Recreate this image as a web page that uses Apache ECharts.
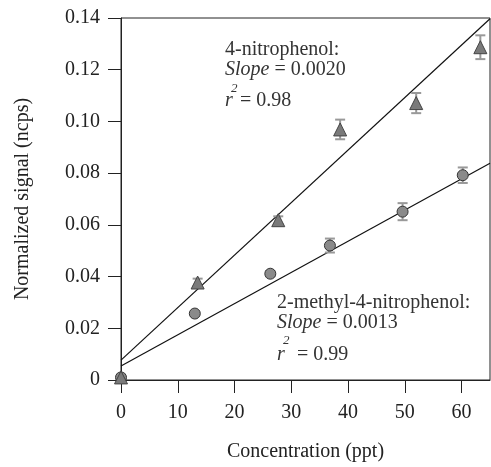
<!DOCTYPE html>
<html>
<head>
<meta charset="utf-8">
<script src="https://cdn.jsdelivr.net/npm/echarts@6/dist/echarts.min.js"></script>
<style>
  html, body { margin: 0; padding: 0; background: #fff; }
  #chart { width: 491px; height: 467px; }
</style>
</head>
<body>
<div id="chart"></div>
<script>
// 4-nitrophenol (triangles)
const conc4NP = [0, 13.5, 27.7, 38.6, 52.0, 63.3];
const signal4NP = [0.001, 0.0377, 0.0618, 0.0969, 0.1071, 0.1287];
const err4NP = [0.001, 0.0015, 0.0015, 0.0038, 0.0039, 0.0046];

// 2-methyl-4-nitrophenol (circles)
const conc2M = [0, 13.0, 26.3, 36.8, 49.6, 60.2];
const signal2M = [0.001, 0.0257, 0.0411, 0.052, 0.0651, 0.0792];
const err2M = [0.001, 0.0005, 0.001, 0.0027, 0.0033, 0.003];

// linear fits
const fitX = [0, 65];
const fit4NP = [0.0077, 0.1397];
const fit2M = [0.0054, 0.0838];

const FONT = '"Liberation Serif", "Times New Roman", serif';

const chart = echarts.init(document.getElementById('chart'));

function pairs(xs, ys) {
    return xs.map((x, i) => [x, ys[i]]);
}

function errData(xs, ys, es) {
    return xs.map((x, i) => [x, ys[i] - es[i], ys[i] + es[i]]);
}

// 误差线
function renderErrorBar(params, api) {
    const x = api.value(0);
    const lo = api.coord([x, api.value(1)]);
    const hi = api.coord([x, api.value(2)]);
    const half = 5;
    const style = { stroke: '#999', lineWidth: 2, fill: null };
    return {
        type: 'group',
        children: [
            { type: 'line', shape: { x1: lo[0], y1: lo[1], x2: hi[0], y2: hi[1] }, style },
            { type: 'line', shape: { x1: lo[0] - half, y1: lo[1], x2: lo[0] + half, y2: lo[1] }, style },
            { type: 'line', shape: { x1: hi[0] - half, y1: hi[1], x2: hi[0] + half, y2: hi[1] }, style },
        ],
    };
}

const richItalic = { i: { fontFamily: FONT, fontSize: 20, fontStyle: 'italic', color: '#333' } };

function txt(left, top, text, extra) {
    return {
        type: 'text',
        left: left,
        top: top,
        style: Object.assign({ fontFamily: FONT, fontSize: 20, fill: '#333', text: text, rich: richItalic }, extra || {}),
    };
}

const option = {
    animation: false,
    grid: {
        left: 121,
        right: 1,
        top: 18,
        bottom: 80,
        show: true,
        borderColor: '#222',
        borderWidth: 1,
    },
    xAxis: {
        type: 'value',
        min: 0,
        max: 65,
        interval: 10,
        name: 'Concentration (ppt)',
        nameLocation: 'middle',
        nameGap: 62,
        nameTextStyle: { fontFamily: FONT, fontSize: 20, color: '#222' },
        axisLine: { show: true, lineStyle: { color: '#222', width: 1 } },
        axisTick: { show: true, length: 13, lineStyle: { color: '#222' } },
        axisLabel: { fontFamily: FONT, fontSize: 20, color: '#222', margin: 23, showMaxLabel: false },
        splitLine: { show: false },
    },
    yAxis: {
        type: 'value',
        min: 0,
        max: 0.14,
        interval: 0.02,
        name: 'Normalized signal (ncps)',
        nameLocation: 'middle',
        nameGap: 88,
        nameTextStyle: { fontFamily: FONT, fontSize: 20, color: '#222' },
        axisLine: { show: true, lineStyle: { color: '#222', width: 1 } },
        axisTick: { show: true, length: 13, lineStyle: { color: '#222' } },
        axisLabel: {
            fontFamily: FONT,
            fontSize: 20,
            color: '#222',
            margin: 21,
            formatter: (v) => (v === 0 ? '0' : v.toFixed(2)),
        },
        splitLine: { show: false },
    },
    series: [
        {
            type: 'line',
            data: pairs(fitX, fit4NP),
            symbol: 'none',
            lineStyle: { color: '#111', width: 1.2 },
            z: 2,
        },
        {
            type: 'line',
            data: pairs(fitX, fit2M),
            symbol: 'none',
            lineStyle: { color: '#111', width: 1.2 },
            z: 2,
        },
        {
            type: 'custom',
            renderItem: renderErrorBar,
            data: errData(conc2M, signal2M, err2M),
            encode: { x: 0, y: [1, 2] },
            z: 3,
        },
        {
            type: 'custom',
            renderItem: renderErrorBar,
            data: errData(conc4NP, signal4NP, err4NP),
            encode: { x: 0, y: [1, 2] },
            z: 3,
        },
        {
            type: 'scatter',
            data: pairs(conc2M, signal2M),
            symbol: 'circle',
            symbolSize: 11,
            itemStyle: { color: '#8a8a8a', borderColor: '#333', borderWidth: 1, opacity: 1 },
            z: 4,
        },
        {
            type: 'scatter',
            data: pairs(conc4NP, signal4NP),
            symbol: 'triangle',
            symbolSize: 13,
            itemStyle: { color: '#7a7a7a', borderColor: '#444', borderWidth: 1, opacity: 1 },
            z: 4,
        },
    ],
    graphic: [
        txt(225, 40, '4-nitrophenol:'),
        txt(225, 60, '{i|Slope} = 0.0020'),
        txt(225, 91, 'r', { fontStyle: 'italic' }),
        txt(231, 82, '2', { fontStyle: 'italic', fontSize: 13 }),
        txt(240, 91, '= 0.98'),

        txt(277, 293, '2-methyl-4-nitrophenol:'),
        txt(277, 313, '{i|Slope} = 0.0013'),
        txt(277, 345, 'r', { fontStyle: 'italic' }),
        txt(283, 334, '2', { fontStyle: 'italic', fontSize: 13 }),
        txt(297, 345, '= 0.99'),
    ],
};

chart.setOption(option);
</script>
</body>
</html>
